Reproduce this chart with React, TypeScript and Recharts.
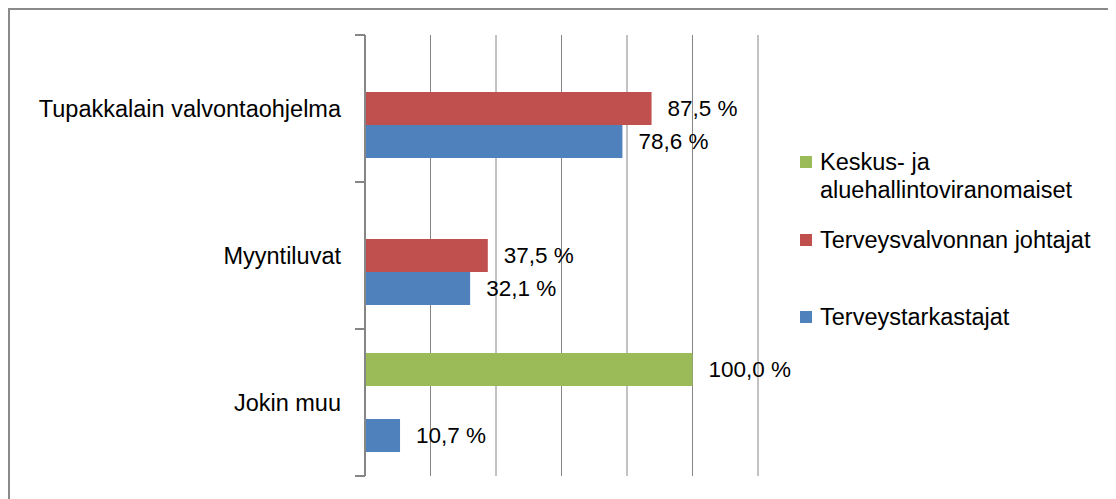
import React from 'react';
import { BarChart, Bar, XAxis, YAxis, CartesianGrid, LabelList, Legend } from 'recharts';

const categories = ['Tupakkalain valvontaohjelma', 'Myyntiluvat', 'Jokin muu'];
const keskusValues = [0, 0, 100];
const johtajatValues = [87.5, 37.5, 0];
const tarkastajatValues = [78.6, 32.1, 10.7];
const seriesKeys = ['keskus', 'johtajat', 'tarkastajat'];
const seriesNames = ['Keskus- ja aluehallintoviranomaiset', 'Terveysvalvonnan johtajat', 'Terveystarkastajat'];
const seriesColors = ['#9BBB59', '#C0504D', '#4F81BD'];
const xTicks = [0, 20, 40, 60, 80, 100, 120];

const data = categories.map((c, i) => ({
  name: c,
  keskus: keskusValues[i],
  johtajat: johtajatValues[i],
  tarkastajat: tarkastajatValues[i],
}));

const FONT = '"Liberation Sans", Arial, sans-serif';
const GRID = '#868686';

const fmt = (v: any) => (typeof v === 'number' && v > 0 ? v.toFixed(1).replace('.', ',') + ' %' : '');

const CatTick = (props: any) => {
  const { x, y, payload } = props;
  const off = payload && typeof payload.offset === 'number' && payload.offset > 0 ? payload.offset : 73.5;
  return (
    <g>
      <line x1={x - 10} x2={x} y1={y - off} y2={y - off} stroke={GRID} strokeWidth={2} />
      <line x1={x - 10} x2={x} y1={y + off} y2={y + off} stroke={GRID} strokeWidth={2} />
      <text x={x - 24} y={y} textAnchor="end" dominantBaseline="central" fontSize={23.5} fontFamily={FONT} fill="#000">
        {payload.value}
      </text>
    </g>
  );
};

const legendTops = [0, 78, 155];

const LegendContent = () => (
  <div style={{ position: 'relative', width: 300, height: 190, fontFamily: FONT, fontSize: 23.5, color: '#000' }}>
    {seriesNames.map((n, i) => (
      <div key={n} style={{ position: 'absolute', left: 0, top: legendTops[i], display: 'flex', alignItems: 'flex-start' }}>
        <div style={{ width: 12, height: 12, background: seriesColors[i], marginTop: 8, marginRight: 8, flex: 'none' }} />
        <div style={{ width: 280, lineHeight: '28px' }}>{n}</div>
      </div>
    ))}
  </div>
);

export default function App() {
  return (
    <div style={{ width: 1104, height: 489, border: '2px solid #8a8a8a', background: '#fff' }}>
      <BarChart
        width={1104}
        height={489}
        data={data}
        layout="vertical"
        margin={{ top: 25, right: 356, bottom: 23, left: 0 }}
        barCategoryGap={24}
        barGap={0}
      >
        <CartesianGrid horizontal={false} vertical={true} stroke={GRID} strokeWidth={1} />
        <XAxis type="number" domain={[0, 120]} ticks={xTicks} hide />
        <YAxis
          type="category"
          dataKey="name"
          width={355}
          axisLine={{ stroke: GRID, strokeWidth: 2 }}
          tickLine={false}
          tickSize={0}
          tickMargin={0}
          tick={<CatTick />}
          interval={0}
        />
        <Legend
          layout="vertical"
          align="center"
          verticalAlign="middle"
          content={<LegendContent />}
          wrapperStyle={{ left: 790, top: 138, width: 300, height: 190 }}
        />
        {seriesKeys.map((k, i) => (
          <Bar key={k} dataKey={k} name={seriesNames[i]} fill={seriesColors[i]} isAnimationActive={false}>
            <LabelList dataKey={k} position="right" offset={16} formatter={fmt} fontSize={22.5} fontFamily={FONT} fill="#000" />
          </Bar>
        ))}
      </BarChart>
    </div>
  );
}
